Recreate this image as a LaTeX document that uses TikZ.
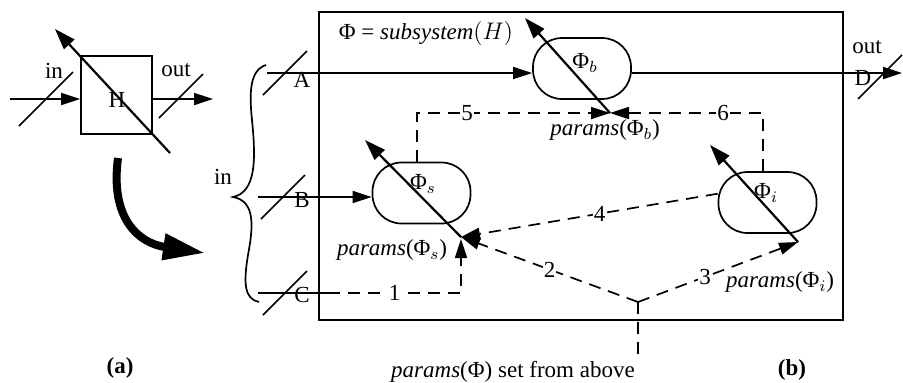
\documentclass[tikz,border=0pt]{standalone}
\usepackage{amsmath,amssymb}
\usepackage{fontspec}
\setmainfont{Liberation Serif}
\usetikzlibrary{arrows.meta}

\newcommand{\busslash}[2][22]{\draw[thin line] (#2) ++(-#1,#1) -- ++(2*#1,-2*#1);}
\newcommand{\PHI}{\text{Φ}}

\begin{document}
\begin{tikzpicture}[x=0.5pt,y=-0.5pt,
    font=\fontsize{11.5}{13}\selectfont,
    thin line/.style={line width=0.85pt},
    tip/.style={-{Triangle[length=9.5pt,width=6pt]}},
    flow/.style={thin line,tip},
    ctrl/.style={thin line,dash pattern=on 6pt off 4pt,tip},
    ctrlplain/.style={thin line,dash pattern=on 6pt off 4pt},
    num/.style={fill=white,inner sep=0.6pt},
    block/.style={draw,thin line,rounded corners=14.5pt,minimum width=49pt,minimum height=30.5pt,inner sep=0pt},
    param/.style={line width=1.1pt,-{Triangle[length=10.5pt,width=7pt]}}]
    \useasboundingbox (0,0) rectangle (903,382);

    % (a)
    \node[draw,thin line,minimum width=35.5pt,minimum height=39pt,inner sep=0pt] (H) at (116.5,95) {};
    \node at (117,100) {H};
    \coordinate (Hp) at (170,153);
    \coordinate (Hq) at (55,29);
    \draw[param] (Hp) -- (Hq);
    \coordinate (hin) at (10,99);
    \coordinate (hout) at (213,99);
    \draw[flow] (hin) -- (hin -| H.west);
    \draw[flow] (H.east |- hout) -- (hout);
    \busslash[27]{46,99}
    \busslash{181,96}
    \node (Hin) at (54,71) {in};
    \node (Hout) at (176,70) {out};
    \coordinate (bendA) at (118,158);
    \coordinate (bendB) at (205,253);
    \draw[line width=4pt,-{Triangle[length=21pt,width=12.5pt]}] (bendA) .. controls (110,218) and (138,243) .. (bendB);
    \node[font=\fontsize{11.5}{13}\selectfont\bfseries] (capa) at (120,368) {(a)};

    % (b)
    \node[draw,line width=1.1pt,minimum width=262pt,minimum height=154pt,inner sep=0pt] (sub) at (581,166) {};
    \node (subname) at (426,33) {$\PHI$ = \textit{subsystem}$(H)$};
    \draw[thin line] (266,65) .. controls (250,70) and (249,92) .. (252,120)
        .. controls (256,160) and (256,192) .. (233,197)
        .. controls (256,201) and (253,228) .. (248,255)
        .. controls (243,285) and (245,299) .. (259,302);
    \node (inall) at (223,177) {in};

    \node[block] (phib) at (582,68.5) {};
    \node at (585,63) {$\PHI_b$};
    \node[block] (phis) at (421.5,193) {};
    \node at (423,184) {$\PHI_s$};
    \node[block] (phii) at (767.5,202.5) {};
    \node at (766,193) {$\PHI_i$};

    \coordinate (pb) at (610,113);
    \coordinate (pbtip) at (525,18);
    \coordinate (ps) at (461,237);
    \coordinate (pstip) at (365,140);
    \coordinate (pi) at (798,242);
    \coordinate (pitip) at (710,145);
    \draw[param] (pb) -- (pbtip);
    \draw[param] (ps) -- (pstip);
    \draw[param] (pi) -- (pitip);
    \node (parb) at (605,130) {\textit{params}($\PHI_b$)};
    \node (pars) at (392,250) {\textit{params}($\PHI_s$)};
    \node (pari) at (780,282) {\textit{params}($\PHI_i$)};

    % inputs and output
    \coordinate (inA) at (267,73);
    \coordinate (inB) at (258,197);
    \coordinate (inC) at (258,293);
    \coordinate (outD) at (902,73);
    \draw[flow] (inA) -- (inA -| phib.west);
    \draw[flow] (inB) -- (inB -| phis.west);
    \draw[flow] (inA -| phib.east) -- (outD);
    \busslash{285,73}
    \busslash{283,197}
    \busslash{285,293}
    \busslash{880,77}
    \node (A) at (302,80) {A};
    \node (B) at (302,200) {B};
    \node (C) at (302,295) {C};
    \node (D) at (863,78) {D};
    \node (Dout) at (867,47) {out};

    % parameter flows
    \coordinate (c1) at (328,293);
    \coordinate (c1b) at (461,293);
    \coordinate (c5) at (417,113);
    \coordinate (c6) at (763,113);
    \coordinate (split) at (638,302);
    \coordinate (above) at (638,360);
    \draw[thin line] (inC) -- (c1);
    \draw[ctrl] (c1) -- node[num]{1} (c1b) -- ([yshift=-1pt]ps);
    \draw[ctrl] (c5 |- phis.north) -- (c5) -- node[num,pos=0.26]{5} (pb);
    \draw[ctrl] (c6 |- phii.north) -- (c6) -- node[num,pos=0.26]{6} (pb);
    \draw[ctrl] (phii.170) -- node[num,pos=0.46]{4} (ps);
    \draw[ctrl] (split) -- node[num,pos=0.5]{2} (ps);
    \draw[ctrl] (split) -- node[num,pos=0.42]{3} (pi);
    \draw[ctrlplain] (split) -- (above);
    \node (parall) at (513,372) {\textit{params}($\PHI$) set from above};
    \node[font=\fontsize{11.5}{13}\selectfont\bfseries] (capb) at (792,370) {(b)};
\end{tikzpicture}
\end{document}
